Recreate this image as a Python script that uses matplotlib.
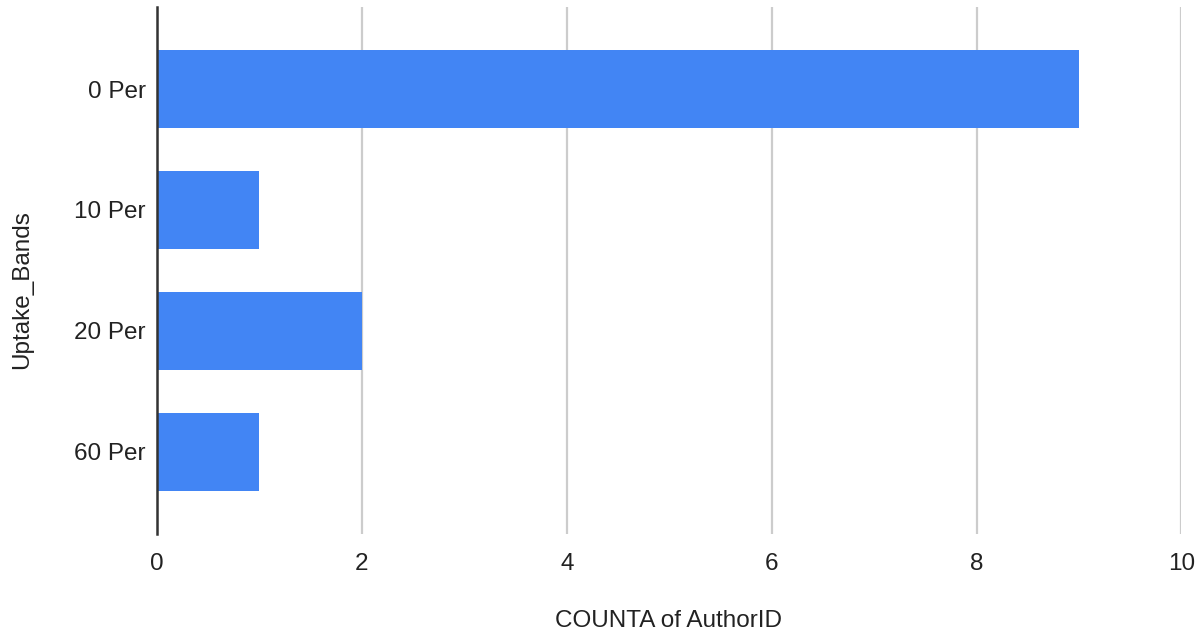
import matplotlib.pyplot as plt

plt.rcParams['font.family'] = ['Liberation Sans', 'DejaVu Sans']

# counts per uptake band
bands = ["0 Per", "10 Per", "20 Per", "60 Per"]
counts = [9, 1, 2, 1]

fig = plt.figure(figsize=(12.04, 6.34), dpi=100)
ax = fig.add_axes([0.1304, 0.1577, 0.8509, 0.8313])

pos = list(range(len(bands)))
ax.barh(pos, counts, height=0.645, color="#4285f4", zorder=3)

ax.set_xlim(0, 10)
ax.set_ylim(3.678, -0.678)
ax.set_xticks([0, 2, 4, 6, 8, 10])
ax.set_yticks(pos)
ax.set_yticklabels(bands)
ax.tick_params(axis="both", length=0, labelsize=17.5, labelcolor="#222222")
ax.tick_params(axis="x", pad=14)
ax.tick_params(axis="y", pad=8)

ax.grid(axis="x", color="#cccccc", linewidth=1.6, zorder=0)
for side in ["top", "right", "bottom"]:
    ax.spines[side].set_visible(False)
ax.spines["left"].set_color("#333333")
ax.spines["left"].set_linewidth(1.8)
ax.spines["left"].set_zorder(4)

fig.text(0.5556, 0.003, "COUNTA of AuthorID", ha="center", va="bottom",
         fontsize=17.5, color="#222222")
fig.text(0.018, 0.543, "Uptake_Bands", ha="center", va="center",
         rotation=90, fontsize=17.5, color="#222222")

fig.savefig("out.png", dpi=100, facecolor="white")
